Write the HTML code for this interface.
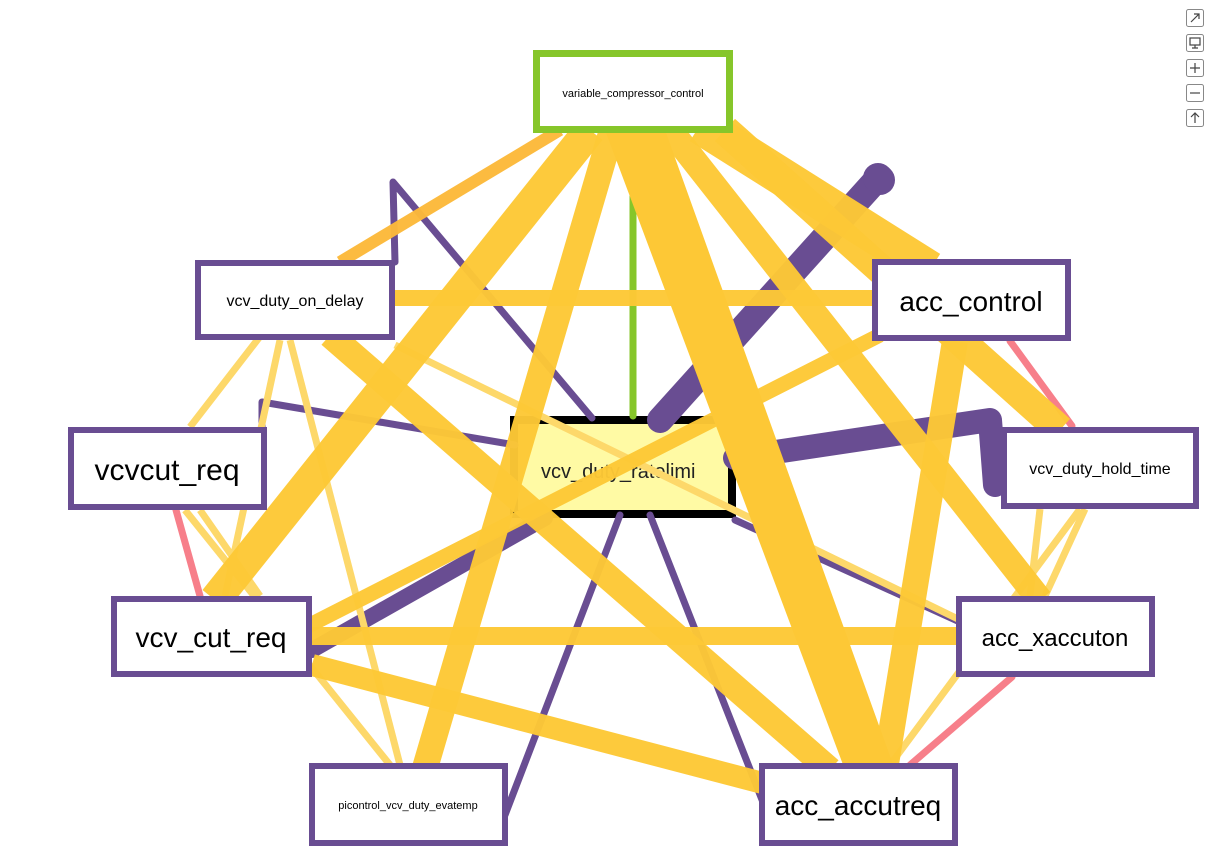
<!DOCTYPE html>
<html><head><meta charset="utf-8"><style>
html,body{margin:0;padding:0;background:#fff;}
svg{display:block;font-family:"Liberation Sans","DejaVu Sans",sans-serif;}
</style></head><body>
<svg width="1223" height="856" viewBox="0 0 1223 856" xmlns="http://www.w3.org/2000/svg">
<!-- center node (under edges) -->
<rect x="514" y="420" width="218" height="94" fill="#fffaa4" stroke="#000" stroke-width="8"/>
<text x="541" y="478" font-size="20" fill="#222">vcv_duty_ratelimi</text>

<g fill="none" stroke-linecap="round" stroke-linejoin="round">
<!-- purple -->
<g stroke="#694d92">
<polyline points="660,420 878,178" stroke-width="26"/>
<polyline points="878,178 880,180" stroke-width="30"/>
<polyline points="735,458 990,420 995,485" stroke-width="24"/>
<polyline points="395,262 393,182 592,418" stroke-width="7"/>
<polyline points="262,430 262,402 515,445" stroke-width="7"/>
<line x1="545" y1="518" x2="312" y2="650" stroke-width="16"/>
<line x1="620" y1="515" x2="505" y2="815" stroke-width="7"/>
<line x1="650" y1="515" x2="768" y2="815" stroke-width="7"/>
<line x1="735" y1="520" x2="960" y2="622" stroke-width="7"/>
</g>
<!-- green -->
<line x1="633" y1="133" x2="633" y2="416" stroke="#86c62a" stroke-width="7"/>
<!-- red -->
<g stroke="#f77f8a" stroke-width="7">
<line x1="176" y1="510" x2="200" y2="596"/>
<line x1="1010" y1="341" x2="1072" y2="426"/>
<line x1="1012" y1="677" x2="910" y2="765"/>
</g>
<!-- light yellow thin -->
<g stroke="#fdd86a" stroke-width="7" stroke-linecap="butt">
<line x1="290" y1="340" x2="400" y2="765"/>
<line x1="280" y1="340" x2="225" y2="596"/>
<line x1="265" y1="330" x2="190" y2="427"/>
<line x1="185" y1="510" x2="390" y2="765"/>
<line x1="200" y1="510" x2="260" y2="596"/>
<line x1="395" y1="345" x2="960" y2="620"/>
<line x1="1080" y1="509" x2="890" y2="765"/>
<line x1="1085" y1="509" x2="1045" y2="596"/>
<line x1="1040" y1="509" x2="1030" y2="596"/>
</g>
<!-- yellow thick -->
<g stroke="#fdc836" stroke-linecap="butt" stroke-opacity="0.97">
<line x1="560" y1="130" x2="340" y2="262" stroke="#fcb93a" stroke-width="12"/>
<line x1="395" y1="298" x2="872" y2="298" stroke-width="16"/>
<line x1="312" y1="636" x2="956" y2="636" stroke-width="18"/>
<line x1="312" y1="665" x2="770" y2="785" stroke-width="22"/>
<line x1="880" y1="335" x2="300" y2="630" stroke-width="15"/>
<line x1="330" y1="335" x2="830" y2="770" stroke-width="26"/>
<line x1="955" y1="341" x2="885" y2="770" stroke-width="26"/>
<line x1="590" y1="130" x2="215" y2="600" stroke-width="32"/>
<line x1="612" y1="130" x2="425" y2="768" stroke-width="26"/>
<line x1="670" y1="130" x2="1040" y2="600" stroke-width="26"/>
<line x1="700" y1="125" x2="930" y2="270" stroke-width="38"/>
<line x1="725" y1="130" x2="1060" y2="430" stroke-width="30"/>
<polygon points="605,130 665,130 895,770 845,770" fill="#fdc836" stroke="none"/>
</g>
</g>

<!-- outer nodes -->
<g fill="#fff" stroke="#694d92" stroke-width="6">
<rect x="198" y="263" width="194" height="74"/>
<rect x="875" y="262" width="193" height="76"/>
<rect x="71" y="430" width="193" height="77"/>
<rect x="1004" y="430" width="192" height="76"/>
<rect x="114" y="599" width="195" height="75"/>
<rect x="959" y="599" width="193" height="75"/>
<rect x="312" y="766" width="193" height="77"/>
<rect x="762" y="766" width="193" height="77"/>
</g>
<rect x="536.5" y="53.5" width="193" height="76" fill="#fff" stroke="#86c62a" stroke-width="7"/>

<g fill="#000" text-anchor="middle">
<text x="633" y="97" font-size="11">variable_compressor_control</text>
<text x="295" y="306" font-size="16">vcv_duty_on_delay</text>
<text x="971" y="311" font-size="28">acc_control</text>
<text x="167" y="480" font-size="30">vcvcut_req</text>
<text x="1100" y="474" font-size="16">vcv_duty_hold_time</text>
<text x="211" y="647" font-size="28">vcv_cut_req</text>
<text x="1055" y="646" font-size="24">acc_xaccuton</text>
<text x="408" y="809" font-size="11">picontrol_vcv_duty_evatemp</text>
<text x="858" y="815" font-size="28">acc_accutreq</text>
</g>

<!-- toolbar -->
<g fill="#fff" stroke="#888" stroke-width="1">
<rect x="1186.5" y="9.5" width="17" height="17" rx="2"/>
<rect x="1186.5" y="34.5" width="17" height="17" rx="2"/>
<rect x="1186.5" y="59.5" width="17" height="17" rx="2"/>
<rect x="1186.5" y="84.5" width="17" height="17" rx="2"/>
<rect x="1186.5" y="109.5" width="17" height="17" rx="2"/>
</g>
<g stroke="#444" stroke-width="1.2" fill="none">
<path d="M1191 22 L1199 14 M1194 14 H1199 V19"/>
<rect x="1190" y="38" width="10" height="7"/><path d="M1195 45 V48 M1192 48 H1198"/>
<path d="M1195 63 V73 M1190 68 H1200"/>
<path d="M1190 93 H1200"/>
<path d="M1195 123 V113 M1191 117 L1195 113 L1199 117"/>
</g>
</svg>
</body></html>
